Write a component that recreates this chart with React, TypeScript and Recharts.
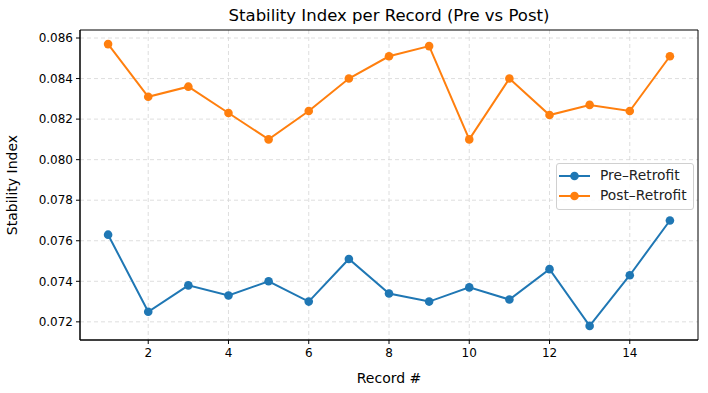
import { LineChart, Line, XAxis, YAxis, CartesianGrid, ReferenceArea } from 'recharts';

const records = [1, 2, 3, 4, 5, 6, 7, 8, 9, 10, 11, 12, 13, 14, 15];
const preRetrofit = [0.0763, 0.0725, 0.0738, 0.0733, 0.074, 0.073, 0.0751, 0.0734, 0.073, 0.0737, 0.0731, 0.0746, 0.0718, 0.0743, 0.077];
const postRetrofit = [0.0857, 0.0831, 0.0836, 0.0823, 0.081, 0.0824, 0.084, 0.0851, 0.0856, 0.081, 0.084, 0.0822, 0.0827, 0.0824, 0.0851];
const xTicks = [2, 4, 6, 8, 10, 12, 14];
const yTicks = [0.072, 0.074, 0.076, 0.078, 0.08, 0.082, 0.084, 0.086];

const BLUE = '#1f77b4';
const ORANGE = '#ff7f0e';
const FONT = 'DejaVu Sans, sans-serif';

const X_DOMAIN: [number, number] = [0.3, 15.7];
const Y_DOMAIN: [number, number] = [0.071105, 0.086395];

const chartData = records.map((r, i) => ({
  record: r,
  pre: preRetrofit[i],
  post: postRetrofit[i],
}));

// legend drawn as an overlay so it doesn't eat into the plot area
function LegendBox() {
  const items = [
    { name: 'Pre\u2013Retrofit', color: BLUE },
    { name: 'Post\u2013Retrofit', color: ORANGE },
  ];
  return (
    <div
      style={{
        position: 'absolute',
        left: 556,
        top: 163,
        width: 136,
        height: 45,
        border: '1px solid #d0d0d0',
        borderRadius: 3,
        background: 'rgba(255,255,255,0.85)',
        fontFamily: FONT,
        fontSize: 13.8,
        color: '#222',
      }}
    >
      {items.map((it, i) => (
        <div key={it.name} style={{ position: 'relative', height: 20, marginTop: i === 0 ? 2 : 0 }}>
          <svg width={36} height={20} style={{ position: 'absolute', left: 0, top: 0 }}>
            <line x1={2} y1={10} x2={33} y2={10} stroke={it.color} strokeWidth={2} />
            <circle cx={17.5} cy={10} r={4.3} fill={it.color} />
          </svg>
          <span style={{ position: 'absolute', left: 43, top: 1, whiteSpace: 'nowrap' }}>{it.name}</span>
        </div>
      ))}
    </div>
  );
}

export default function App() {
  return (
    <div style={{ position: 'absolute', left: 0, top: 0, width: 708, height: 393, background: '#fff' }}>
      <div
        style={{
          position: 'absolute',
          left: 80,
          width: 618,
          top: 6,
          textAlign: 'center',
          fontFamily: FONT,
          fontSize: 16.5,
          color: '#000',
        }}
      >
        Stability Index per Record (Pre vs Post)
      </div>
      <LineChart width={708} height={393} data={chartData} margin={{ top: 30, right: 10, bottom: 0, left: 0 }}>
        <CartesianGrid stroke="#d6d6d6" strokeDasharray="4 3" strokeWidth={0.8} horizontalValues={yTicks} verticalValues={xTicks} />
        <XAxis
          dataKey="record"
          type="number"
          domain={X_DOMAIN}
          ticks={xTicks}
          height={53}
          tickSize={4}
          tickMargin={4}
          stroke="#000"
          tick={{ fill: '#000', fontSize: 12, fontFamily: FONT }}
          allowDataOverflow
          label={{ value: 'Record #', position: 'insideBottom', offset: 10, fill: '#000', fontSize: 14, fontFamily: FONT }}
        />
        <YAxis
          type="number"
          domain={Y_DOMAIN}
          ticks={yTicks}
          width={80}
          tickSize={4}
          tickMargin={3}
          stroke="#000"
          allowDataOverflow
          tickFormatter={(v: number) => v.toFixed(3)}
          tick={{ fill: '#000', fontSize: 12, fontFamily: FONT }}
          label={{ value: 'Stability Index', angle: -90, position: 'insideLeft', offset: 12, style: { textAnchor: 'middle' }, fill: '#000', fontSize: 14, fontFamily: FONT }}
        />
        <ReferenceArea x1={X_DOMAIN[0]} x2={X_DOMAIN[1]} y1={Y_DOMAIN[0]} y2={Y_DOMAIN[1]} fill="none" stroke="#000" strokeWidth={1} />
        <Line
          dataKey="pre"
          name="Pre\u2013Retrofit"
          stroke={BLUE}
          strokeWidth={2}
          dot={{ r: 4.3, fill: BLUE, stroke: BLUE, strokeWidth: 0 }}
          activeDot={false}
          isAnimationActive={false}
        />
        <Line
          dataKey="post"
          name="Post\u2013Retrofit"
          stroke={ORANGE}
          strokeWidth={2}
          dot={{ r: 4.3, fill: ORANGE, stroke: ORANGE, strokeWidth: 0 }}
          activeDot={false}
          isAnimationActive={false}
        />
      </LineChart>
      <LegendBox />
    </div>
  );
}
